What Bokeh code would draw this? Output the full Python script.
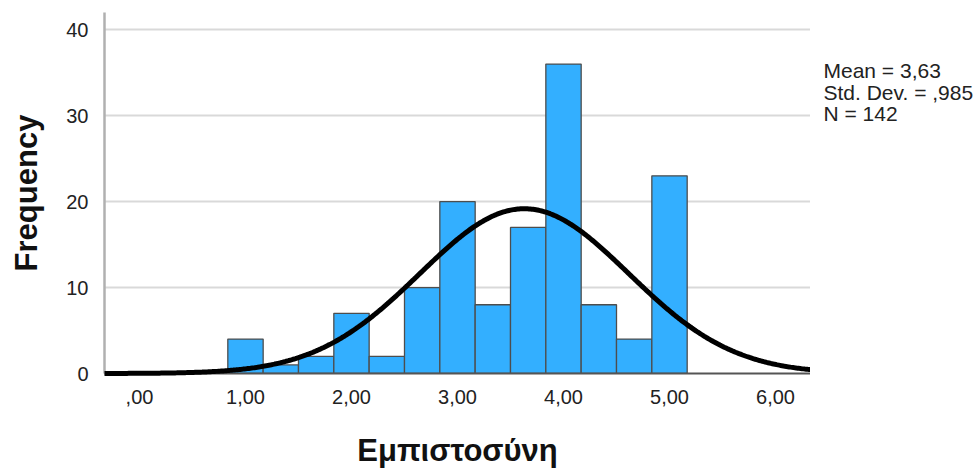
import numpy as np
from bokeh.plotting import figure
from bokeh.layouts import row
from bokeh.models import Range1d, FixedTicker, ColumnDataSource
from bokeh.core.properties import value
from bokeh.embed import file_html
from bokeh.resources import INLINE

# ---- data ----
bin_centers = [1.0, 4/3, 5/3, 2.0, 7/3, 8/3, 3.0, 10/3, 11/3, 4.0, 13/3, 14/3, 5.0]
counts = [4, 1, 2, 7, 2, 10, 20, 8, 17, 36, 8, 4, 23]
bin_width = 1/3
x_ticks = [0, 1, 2, 3, 4, 5, 6]
x_tick_labels = [",00", "1,00", "2,00", "3,00", "4,00", "5,00", "6,00"]
y_ticks = [0, 10, 20, 30, 40]
MEAN = 3.63
SD = 0.985
N = 142
stats_lines = ["Mean = 3,63", "Std. Dev. = ,985", "N = 142"]

FONT = "Liberation Sans"
X0, X1 = -0.33, 6.33
Y0, Y1 = 0, 42
H = 470
MAIN_W = 810
SIDE_W = 978 - MAIN_W

p = figure(width=MAIN_W, height=H, output_backend="svg", toolbar_location=None,
           x_range=Range1d(X0, X1), y_range=Range1d(Y0, Y1),
           min_border_left=104, min_border_right=0, min_border_top=12,
           min_border_bottom=97)
p.outline_line_color = None
p.background_fill_color = "white"
p.border_fill_color = "white"

p.xgrid.visible = False
p.ygrid.grid_line_color = "#d9d9d9"
p.ygrid.grid_line_width = 2
p.ygrid.ticker = FixedTicker(ticks=y_ticks)

src = ColumnDataSource(dict(x=bin_centers, top=counts))
p.vbar(x="x", top="top", bottom=0, width=bin_width, source=src,
       fill_color="#33AFFF", line_color="#4d4d4d", line_width=1.3)

xs = np.linspace(X0, X1, 500)
ys = N * bin_width * np.exp(-0.5 * ((xs - MEAN) / SD) ** 2) / (SD * np.sqrt(2 * np.pi))
p.line(xs, ys, line_color="black", line_width=5, level="overlay")

# axes
xa = p.xaxis[0]
xa.ticker = FixedTicker(ticks=x_ticks)
xa.major_label_overrides = {t: l for t, l in zip(x_ticks, x_tick_labels)}
xa.major_tick_line_color = None
xa.minor_tick_line_color = None
xa.axis_line_color = "#555555"
xa.axis_line_width = 2
xa.major_label_text_font = FONT
xa.major_label_text_font_size = "20px"
xa.major_label_text_color = "#222222"
xa.major_label_standoff = 10
xa.axis_label = "Εμπιστοσύνη"
xa.axis_label_text_font = FONT
xa.axis_label_text_font_size = "31px"
xa.axis_label_text_font_style = "bold"
xa.axis_label_text_color = "#111111"
xa.axis_label_standoff = 26

ya = p.yaxis[0]
ya.ticker = FixedTicker(ticks=y_ticks)
ya.major_tick_line_color = None
ya.minor_tick_line_color = None
ya.axis_line_color = "#b0b0b0"
ya.axis_line_width = 2.5
ya.major_label_text_font = FONT
ya.major_label_text_font_size = "20px"
ya.major_label_text_color = "#222222"
ya.major_label_standoff = 10
ya.axis_label = "Frequency"
ya.axis_label_text_font = FONT
ya.axis_label_text_font_size = "31px"
ya.axis_label_text_font_style = "bold"
ya.axis_label_text_color = "#111111"
ya.axis_label_standoff = 19

# side panel carrying the statistics text; shares the frequency scale
side = figure(width=SIDE_W, height=H, output_backend="svg", toolbar_location=None,
              x_range=Range1d(0, SIDE_W), y_range=p.y_range,
              min_border_left=0, min_border_right=0, min_border_top=12,
              min_border_bottom=97)
side.axis.visible = False
side.grid.visible = False
side.outline_line_color = None
side.background_fill_color = "white"
side.border_fill_color = "white"
stat_x = [13, 13, 13]
stat_y = [35.25, 32.7, 30.25]
side.text(x=stat_x, y=stat_y, text=stats_lines, text_font=value(FONT),
          text_font_size="21px", text_color="#222222",
          text_baseline="alphabetic", text_align="left")

layout = row(p, side, spacing=0)
open("out.html", "w").write(file_html(layout, INLINE))
